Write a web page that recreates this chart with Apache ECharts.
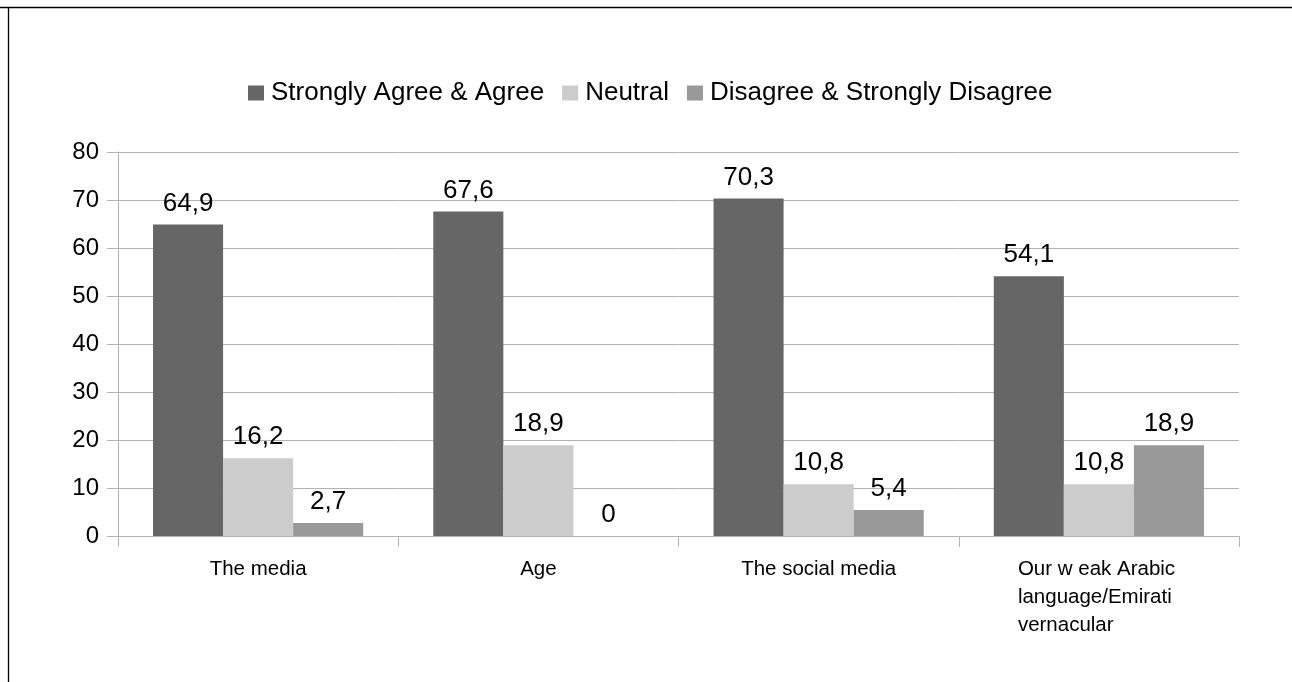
<!DOCTYPE html>
<html>
<head>
<meta charset="utf-8">
<script src="https://cdn.jsdelivr.net/npm/echarts@6/dist/echarts.min.js"></script>
<style>
  html, body { margin: 0; padding: 0; background: #ffffff; }
  #chart { width: 1292px; height: 682px; }
</style>
</head>
<body>
<div id="chart"></div>
<script>
// Survey responses per factor (percent of respondents)
const categories = [
  'The media',
  'Age',
  'The social media',
  'Our w eak Arabic\nlanguage/Emirati\nvernacular'
];
const seriesNames = ['Strongly Agree & Agree', 'Neutral', 'Disagree & Strongly Disagree'];
const agreeValues = [64.9, 67.6, 70.3, 54.1];
const neutralValues = [16.2, 18.9, 10.8, 10.8];
const disagreeValues = [2.7, 0, 5.4, 18.9];
const yTicks = [0, 10, 20, 30, 40, 50, 60, 70, 80];

const colors = ['#666666', '#cccccc', '#999999'];
const fontFamily = '"Liberation Sans", Arial, sans-serif';
const gridColor = '#b3b3b3';

const chart = echarts.init(document.getElementById('chart'), null, { renderer: 'canvas' });

function valueLabel(p) {
  return String(p.value).replace('.', ',');
}

function makeSeries(name, values, color) {
  return {
    name: name,
    type: 'bar',
    data: values,
    barGap: '0%',
    barCategoryGap: '25%',
    itemStyle: { color: color },
    label: {
      show: true,
      position: 'top',
      distance: 8,
      formatter: valueLabel,
      color: '#000000',
      fontFamily: fontFamily,
      fontSize: 26
    },
    emphasis: { disabled: true }
  };
}

chart.setOption({
  animation: false,
  backgroundColor: '#ffffff',
  color: colors,
  textStyle: { fontFamily: fontFamily },
  graphic: [
    { type: 'line', shape: { x1: 0, y1: 7.5, x2: 1292, y2: 7.5 }, style: { stroke: '#000000', lineWidth: 1.3 } },
    { type: 'line', shape: { x1: 8.5, y1: 7, x2: 8.5, y2: 682 }, style: { stroke: '#000000', lineWidth: 1.3 } }
  ],
  legend: {
    data: seriesNames,
    left: 243,
    top: 75,
    itemWidth: 16,
    itemHeight: 15,
    itemGap: 18,
    icon: 'rect',
    textStyle: { fontFamily: fontFamily, fontSize: 26, color: '#000000', padding: [0, 0, 0, 2] }
  },
  grid: {
    left: 118,
    right: 53,
    top: 152,
    bottom: 146,
    containLabel: false
  },
  xAxis: {
    type: 'category',
    data: categories,
    axisLine: { show: true, lineStyle: { color: gridColor, width: 1 } },
    axisTick: { show: true, length: 11, alignWithLabel: false, lineStyle: { color: gridColor } },
    axisLabel: {
      interval: 0,
      margin: 19,
      color: '#000000',
      fontFamily: fontFamily,
      fontSize: 20.5,
      lineHeight: 28,
      formatter: function (v) {
        if (v.indexOf('\n') < 0) return v;
        return v.split('\n').map(function (s) { return '{l|' + s + '}'; }).join('\n');
      },
      rich: {
        l: { width: 162, align: 'left', fontSize: 20.5, lineHeight: 28, fontFamily: fontFamily, color: '#000000' }
      }
    }
  },
  yAxis: {
    type: 'value',
    min: yTicks[0],
    max: yTicks[yTicks.length - 1],
    interval: yTicks[1] - yTicks[0],
    axisLine: { show: true, lineStyle: { color: gridColor, width: 1 } },
    axisTick: { show: true, length: 11, lineStyle: { color: gridColor } },
    splitLine: { show: true, lineStyle: { color: gridColor, width: 1 } },
    axisLabel: {
      margin: 19,
      color: '#000000',
      fontFamily: fontFamily,
      fontSize: 24
    }
  },
  series: [
    makeSeries(seriesNames[0], agreeValues, colors[0]),
    makeSeries(seriesNames[1], neutralValues, colors[1]),
    makeSeries(seriesNames[2], disagreeValues, colors[2])
  ]
});
</script>
</body>
</html>
